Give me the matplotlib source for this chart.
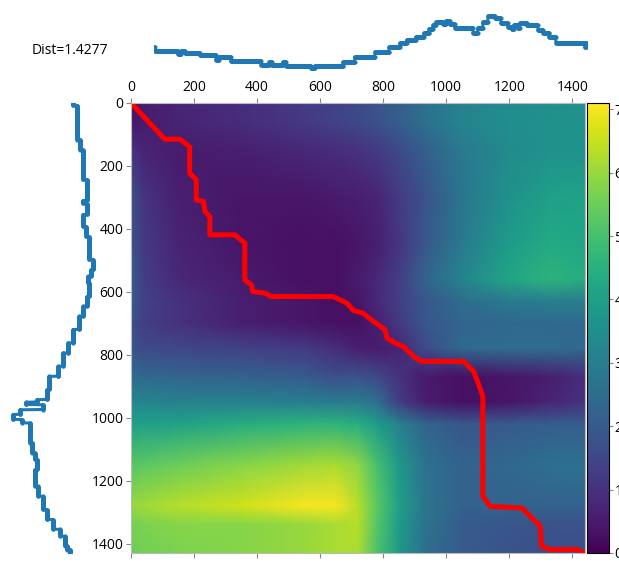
import numpy as np
import matplotlib.pyplot as plt

plt.rcParams["font.family"] = ["Open Sans", "DejaVu Sans"]
plt.rcParams["font.size"] = 10

dist = 1.4277

# query series (top), stored as step levels and run lengths
top_levels = [1.15, 0.95, 0.80, 0.95, 0.85, 0.75, 0.50, 0.65, 0.45, 0.25,
              0.40, 0.25, 0.40, 0.20, 0.10, 0.20, 0.40, 0.65, 0.90, 1.15,
              1.35, 1.50, 1.65, 1.85, 2.05, 2.25, 2.40, 2.30, 2.45, 2.30,
              2.10, 1.85, 2.10, 2.40, 2.70, 2.60, 2.35, 2.15, 2.05, 2.25,
              2.10, 2.35, 2.25, 2.00, 1.85, 1.65, 1.35, 1.15, 1.35]
top_runs = [3, 77, 10, 13, 50, 53, 10, 40, 100, 27,
            9, 37, 10, 83, 13, 94, 39, 67, 47, 36,
            23, 30, 27, 17, 13, 10, 23, 10, 13, 17,
            60, 16, 17, 17, 23, 20, 23, 13, 7, 13,
            7, 23, 37, 17, 20, 23, 96, 5, 3]

# reference series (left)
left_levels = [3.15, 3.35, 3.50, 3.65, 3.85, 3.65, 3.85, 3.65, 3.80, 3.95,
               4.15, 4.05, 3.90, 3.95, 3.85, 3.65, 3.45, 3.15, 2.90, 2.65,
               2.40, 1.95, 1.85, 1.35, 0.80, 1.65, 0.50, 0.15, 0.60, 1.00,
               1.10, 1.25, 1.35, 1.25, 1.40, 1.65, 1.85, 2.15, 2.50, 2.75,
               2.85, 3.00]
left_runs = [8, 109, 32, 95, 66, 10, 35, 38, 32, 73,
             32, 21, 21, 43, 31, 32, 42, 43, 32, 42,
             32, 42, 32, 8, 8, 16, 15, 16, 11, 63,
             32, 21, 32, 53, 32, 42, 32, 31, 22, 31,
             12, 11]

# cost matrix sampled at knots (rows x cols)
col_knots = [0, 40, 150, 350, 550, 650, 720, 780, 850, 930, 1050, 1200, 1330, 1440]
row_knots = [0, 60, 150, 300, 450, 560, 630, 700, 780, 870, 950, 1020, 1150, 1280, 1340, 1430]
cost = [
    [0.3, 0.5, 0.7, 0.9, 1.2, 1.4, 1.6, 1.8, 2.1, 2.6, 3.1, 3.4, 3.5, 3.6],
    [0.4, 0.5, 0.7, 0.9, 1.2, 1.4, 1.6, 1.8, 2.1, 2.6, 3.2, 3.5, 3.6, 3.6],
    [1.1, 0.7, 0.5, 0.6, 0.8, 0.9, 1.0, 1.2, 1.6, 2.1, 2.9, 3.4, 3.6, 3.6],
    [1.7, 1.1, 0.6, 0.4, 0.4, 0.5, 0.6, 0.7, 1.2, 1.8, 2.8, 3.6, 4.0, 4.1],
    [1.8, 1.2, 0.7, 0.4, 0.3, 0.3, 0.4, 0.6, 1.1, 1.9, 2.9, 3.9, 4.3, 4.2],
    [2.0, 1.3, 0.8, 0.5, 0.3, 0.3, 0.5, 0.8, 1.3, 2.2, 3.2, 4.2, 4.6, 4.4],
    [2.0, 1.4, 1.0, 0.6, 0.4, 0.3, 0.4, 0.8, 1.3, 1.9, 2.5, 2.9, 3.0, 3.0],
    [1.8, 1.3, 1.0, 0.6, 0.4, 0.3, 0.3, 0.6, 1.2, 1.9, 2.3, 2.4, 2.4, 2.4],
    [1.9, 1.6, 1.5, 1.4, 1.2, 0.9, 0.6, 0.5, 0.7, 1.6, 2.4, 2.5, 2.5, 2.4],
    [2.5, 2.4, 2.3, 2.2, 2.0, 1.7, 1.8, 1.6, 1.0, 0.5, 0.3, 0.4, 0.6, 0.9],
    [3.3, 3.2, 3.1, 3.1, 3.0, 2.9, 2.9, 2.6, 1.3, 0.6, 0.3, 0.4, 0.7, 1.0],
    [4.0, 4.0, 4.1, 4.4, 4.6, 4.6, 4.4, 3.9, 3.1, 2.3, 1.9, 2.0, 2.1, 2.1],
    [5.2, 5.3, 5.5, 5.8, 6.1, 6.2, 5.9, 5.0, 3.8, 2.7, 2.2, 2.4, 2.6, 2.6],
    [6.0, 6.1, 6.3, 6.6, 7.0, 7.0, 6.3, 5.3, 4.0, 2.8, 2.2, 2.2, 2.2, 2.2],
    [5.6, 5.7, 5.8, 5.8, 6.0, 6.2, 6.3, 5.2, 3.9, 2.7, 2.0, 1.9, 1.8, 1.8],
    [5.5, 5.6, 5.7, 5.8, 6.0, 6.2, 6.2, 5.1, 3.8, 2.6, 2.0, 1.8, 1.7, 1.7],
]

# warping path (column, row)
path_cols = [0, 107, 155, 186, 186, 207, 207, 230, 235, 250, 250, 329, 361, 361,
             382, 386, 424, 445, 641, 685, 705, 736, 769, 785, 806, 812, 838, 864,
             902, 923, 1055, 1087, 1103, 1116, 1116, 1140, 1240, 1277, 1298, 1302,
             1330, 1415, 1439]
path_rows = [0, 115, 115, 139, 223, 244, 308, 313, 345, 361, 419, 419, 445, 562,
             578, 599, 604, 615, 615, 636, 659, 668, 694, 705, 721, 747, 763, 774,
             810, 821, 821, 853, 895, 932, 1250, 1282, 1287, 1324, 1345, 1408,
             1419, 1419, 1429]

top = np.repeat(top_levels, top_runs)
left = np.repeat(left_levels, left_runs)
n_cols = len(top)
n_rows = len(left)

W, H = 619, 562
fig = plt.figure(figsize=(W / 100, H / 100), dpi=100)

def px_axes(x0, y0, x1, y1):
    return fig.add_axes([x0 / W, 1 - y1 / H, (x1 - x0) / W, (y1 - y0) / H])

# heatmap
ax = px_axes(131, 103, 585, 553)
mesh = ax.pcolormesh(col_knots, row_knots, np.array(cost), shading="gouraud",
                     cmap="viridis", vmin=0, vmax=7.1)
ax.plot(path_cols, path_rows, color="red", lw=3.6, solid_joinstyle="round")
ax.set_xlim(0, n_cols - 1)
ax.set_ylim(n_rows - 1, 0)
ax.set_xticks(range(0, 1401, 200))
ax.set_yticks(range(0, 1401, 200))
ax.tick_params(top=True, bottom=True, labeltop=True, labelbottom=False,
               length=3.5, width=0.8, color="#888888", labelsize=10, pad=2)
for s in ax.spines.values():
    s.set_color("#bbbbbb")
    s.set_linewidth(0.8)

# colorbar
cax = px_axes(587, 103, 609, 553)
cb = fig.colorbar(mesh, cax=cax)
cb.set_ticks(range(0, 8))
cb.ax.tick_params(length=3, width=0.8, color="#888888", labelsize=10, pad=1)
cb.outline.set_linewidth(0.8)

# top series
axt = px_axes(154, 10, 587, 75)
axt.plot(np.arange(n_cols), top, "-o", color="#1f77b4", lw=2.2, ms=3, mew=0)
axt.set_xlim(0, n_cols - 1)
axt.set_ylim(-0.25, 3.0)
axt.axis("off")

# left series
axl = px_axes(0, 103, 100, 553)
axl.plot(left, np.arange(n_rows), "-o", color="#1f77b4", lw=2.2, ms=3, mew=0)
axl.set_ylim(n_rows - 1, 0)
axl.set_xlim(-0.5, 4.5)
axl.axis("off")

fig.text(32 / W, 1 - 50 / H, "Dist=%.4f" % dist, fontsize=10, va="center", ha="left")

fig.savefig("out.png", dpi=100)
